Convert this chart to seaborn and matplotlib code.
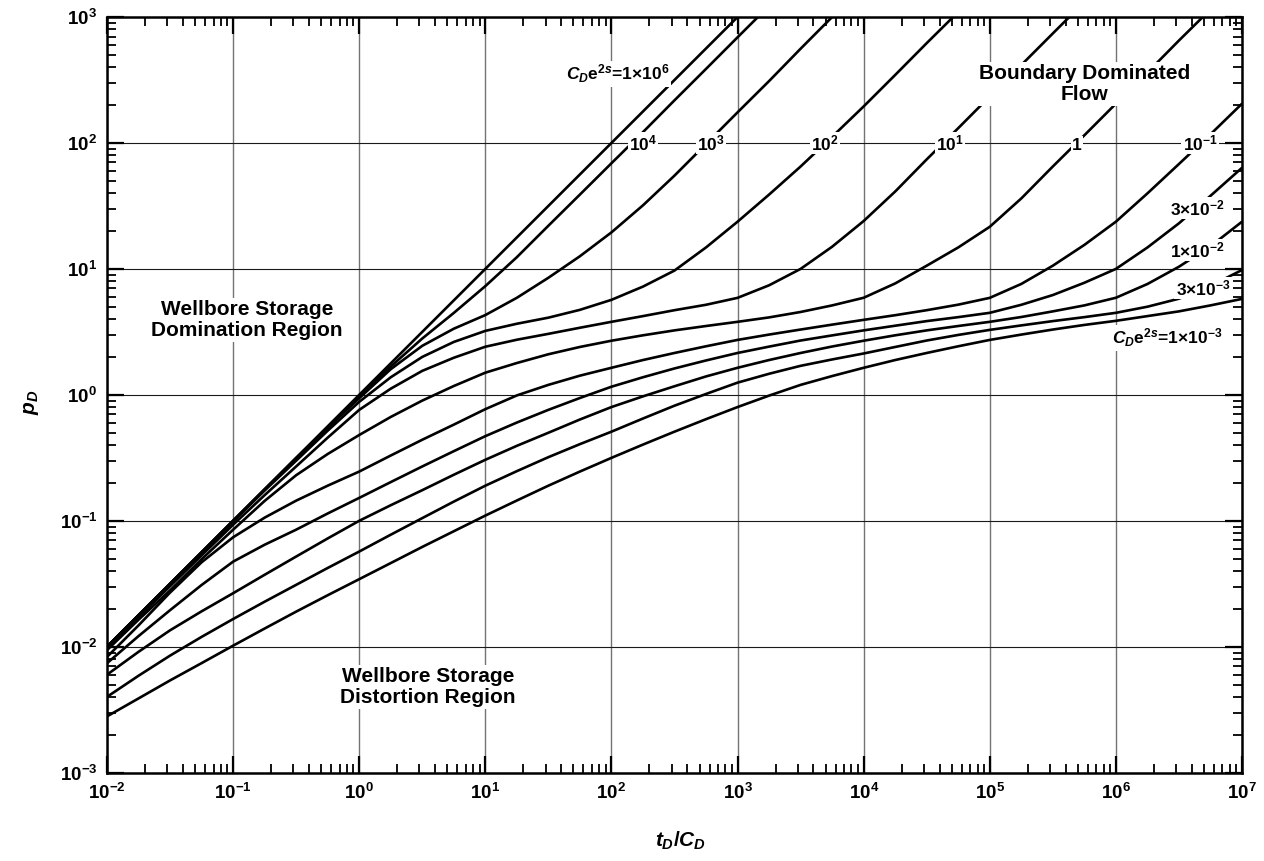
import numpy as np
import pandas as pd
import matplotlib
matplotlib.use("Agg")
import matplotlib.pyplot as plt
import seaborn as sns
from matplotlib.ticker import FixedLocator, FixedFormatter, LogLocator, NullFormatter

# ---------------- data ----------------
# tD/CD sample positions (quarter decades)
X_Q = [0.01, 0.0178, 0.0316, 0.0562, 0.1, 0.178, 0.316, 0.562,
       1, 1.78, 3.16, 5.62, 10, 17.8, 31.6, 56.2,
       100, 178, 316, 562, 1000, 1778, 3162, 5623,
       1e4, 1.78e4, 3.16e4, 5.62e4, 1e5, 1.78e5, 3.16e5, 5.62e5,
       1e6, 1.78e6, 3.16e6, 5.62e6, 1e7]

c1_x = [0.01, 0.1, 1, 10, 100, 1000, 2000]
c1_y = [0.01, 0.1, 1, 10, 100, 1000, 2000]

c2_x = X_Q[:23]
c2_y = [0.01, 0.0178, 0.0316, 0.0562, 0.1, 0.178, 0.315, 0.55, 0.97, 1.68, 2.8, 4.47,
        7.3, 12.4, 22, 38.9, 69, 122, 218, 387, 690, 1225, 2180]

c3_x = X_Q[:25]
c3_y = [0.01, 0.0178, 0.0316, 0.0562, 0.1, 0.177, 0.31, 0.547, 0.94, 1.60, 2.45, 3.35,
        4.3, 5.9, 8.5, 12.6, 19.5, 32, 55, 98, 175, 310, 560, 1000, 1780]

c4_x = X_Q[:29]
c4_y = [0.01, 0.0178, 0.0315, 0.0559, 0.099, 0.174, 0.3, 0.519, 0.88, 1.38, 2.0, 2.63,
        3.22, 3.67, 4.1, 4.73, 5.68, 7.24, 9.7, 14.8, 23.7, 38.9, 65, 112,
        195, 347, 620, 1096, 1950]

c5_x = X_Q[:33]
c5_y = [0.0097, 0.0172, 0.0302, 0.0531, 0.093, 0.16, 0.27, 0.457, 0.76, 1.12, 1.55, 1.97,
        2.41, 2.74, 3.05, 3.41, 3.8, 4.22, 4.7, 5.19, 5.89, 7.41, 10, 15.0,
        24, 41.2, 74, 131, 234, 416, 740, 1315, 2340]

c6_x = X_Q
c6_y = [0.0094, 0.0164, 0.028, 0.0495, 0.085, 0.144, 0.23, 0.339, 0.48, 0.668, 0.9, 1.175,
        1.5, 1.79, 2.1, 2.4, 2.69, 2.97, 3.25, 3.52, 3.8, 4.12, 4.55, 5.13,
        5.9, 7.67, 10.6, 14.8, 21.6, 36.3, 65, 115, 205, 363, 650, 1148, 2050]

c7_x = X_Q
c7_y = [0.0083, 0.0148, 0.0269, 0.0468, 0.074, 0.106, 0.1445, 0.19, 0.246, 0.33, 0.44, 0.58,
        0.77, 0.99, 1.2, 1.42, 1.64, 1.89, 2.15, 2.43, 2.73, 3.01, 3.3, 3.61,
        3.94, 4.29, 4.7, 5.2, 5.89, 7.6, 10.6, 15.5, 23.7, 39.8, 68, 117, 205]

c8_x = X_Q
c8_y = [0.0074, 0.01216, 0.0195, 0.0309, 0.0474, 0.0646, 0.085, 0.1143, 0.152, 0.203, 0.27, 0.357,
        0.47, 0.603, 0.76, 0.944, 1.16, 1.38, 1.62, 1.875, 2.15, 2.415, 2.7, 2.965,
        3.25, 3.54, 3.85, 4.14, 4.48, 5.19, 6.2, 7.76, 10, 14.8, 23, 38, 63.5]

c9_x = X_Q
c9_y = [0.006, 0.00912, 0.0135, 0.0191, 0.0266, 0.0373, 0.052, 0.0724, 0.1, 0.133, 0.175, 0.232,
        0.305, 0.394, 0.5, 0.637, 0.8, 0.973, 1.17, 1.40, 1.64, 1.89, 2.15, 2.42,
        2.69, 2.97, 3.25, 3.52, 3.8, 4.15, 4.6, 5.13, 5.9, 7.59, 10.4, 15.1, 23.7]

c10_x = X_Q
c10_y = [0.004, 0.00589, 0.0085, 0.01197, 0.0166, 0.0228, 0.031, 0.0422, 0.057, 0.0776, 0.105, 0.142,
         0.19, 0.248, 0.32, 0.406, 0.51, 0.649, 0.82, 1.016, 1.25, 1.47, 1.7, 1.91,
         2.13, 2.40, 2.7, 2.99, 3.28, 3.56, 3.85, 4.14, 4.48, 5.01, 5.8, 7.33, 9.8]

c11_x = X_Q
c11_y = [0.0028, 0.00389, 0.0054, 0.00741, 0.0102, 0.01396, 0.019, 0.02564, 0.0344, 0.0462, 0.062, 0.0826,
         0.11, 0.145, 0.19, 0.246, 0.316, 0.403, 0.51, 0.641, 0.80, 0.986, 1.2, 1.41,
         1.64, 1.89, 2.15, 2.43, 2.73, 3.01, 3.3, 3.59, 3.87, 4.22, 4.6, 5.13, 5.78]

curve_names = ["1e6", "1e4", "1e3", "1e2", "1e1", "1", "1e-1", "3e-2", "1e-2", "3e-3", "1e-3"]
curve_x = [c1_x, c2_x, c3_x, c4_x, c5_x, c6_x, c7_x, c8_x, c9_x, c10_x, c11_x]
curve_y = [c1_y, c2_y, c3_y, c4_y, c5_y, c6_y, c7_y, c8_y, c9_y, c10_y, c11_y]

x_ticks = [1e-2, 1e-1, 1e0, 1e1, 1e2, 1e3, 1e4, 1e5, 1e6, 1e7]
x_ticklabels = ["10$^{-2}$", "10$^{-1}$", "10$^{0}$", "10$^{1}$", "10$^{2}$", "10$^{3}$",
                "10$^{4}$", "10$^{5}$", "10$^{6}$", "10$^{7}$"]
y_ticks = [1e-3, 1e-2, 1e-1, 1e0, 1e1, 1e2, 1e3]
y_ticklabels = ["10$^{-3}$", "10$^{-2}$", "10$^{-1}$", "10$^{0}$", "10$^{1}$", "10$^{2}$", "10$^{3}$"]

# ---------------- build frame ----------------
rows = []
for name, xs, ys in zip(curve_names, curve_x, curve_y):
    for xv, yv in zip(xs, ys):
        rows.append({"curve": name, "tD_CD": xv, "pD": yv})
df = pd.DataFrame(rows)

# ---------------- style ----------------
sns.set_theme(style="white")
plt.rcParams["font.family"] = ["Liberation Sans", "DejaVu Sans"]
plt.rcParams["font.weight"] = "bold"
plt.rcParams["mathtext.fontset"] = "custom"
plt.rcParams["mathtext.rm"] = "Liberation Sans:bold"
plt.rcParams["mathtext.it"] = "Liberation Sans:italic:bold"
plt.rcParams["mathtext.bf"] = "Liberation Sans:bold"
plt.rcParams["mathtext.default"] = "regular"

fig = plt.figure(figsize=(12.64, 8.61), dpi=100)
ax = fig.add_axes([107 / 1264, 1 - 772.7 / 861, 1135 / 1264, 755.7 / 861])
ax.set_xscale("log")
ax.set_yscale("log")

sns.lineplot(data=df, x="tD_CD", y="pD", units="curve", estimator=None,
             color="black", linewidth=1.9, sort=False, legend=False, ax=ax, zorder=3)

ax.set_xlim(1e-2, 1e7)
ax.set_ylim(1e-3, 1e3)

ax.xaxis.set_major_locator(FixedLocator(x_ticks))
ax.xaxis.set_major_formatter(FixedFormatter(x_ticklabels))
ax.yaxis.set_major_locator(FixedLocator(y_ticks))
ax.yaxis.set_major_formatter(FixedFormatter(y_ticklabels))
ax.xaxis.set_minor_locator(LogLocator(base=10, subs=np.arange(2, 10), numticks=30))
ax.yaxis.set_minor_locator(LogLocator(base=10, subs=np.arange(2, 10), numticks=30))
ax.xaxis.set_minor_formatter(NullFormatter())
ax.yaxis.set_minor_formatter(NullFormatter())

ax.tick_params(which="both", direction="in", top=True, right=True, bottom=True, left=True,
               color="black")
ax.tick_params(which="major", length=12.5, width=1.6, labelsize=13.5, pad=7, labelcolor="black")
ax.tick_params(which="minor", length=6.5, width=1.3)
for lab in ax.get_xticklabels() + ax.get_yticklabels():
    lab.set_fontweight("bold")

for sp in ax.spines.values():
    sp.set_color("black")
    sp.set_linewidth(1.8)

ax.set_axisbelow(True)
ax.grid(False)
ax.xaxis.grid(True, which="major", color="0.45", linewidth=1.0)
ax.yaxis.grid(True, which="major", color="0.1", linewidth=0.8)

ax.set_xlabel(r"$\mathit{t_D/C_D}$", fontsize=15, color="black")
ax.set_ylabel(r"$\mathit{p_D}$", fontsize=15, color="black")
ax.xaxis.set_label_coords(0.505, -0.075)
ax.yaxis.set_label_coords(-0.058, 0.49)

# ---------------- annotations ----------------
def fx(px):
    return (px - 107) / 1135.0

def fy(py):
    return (772.7 - py) / 755.7

box = dict(facecolor="white", edgecolor="none", pad=1.0)
lab_kw = dict(transform=ax.transAxes, ha="center", va="center", fontsize=12.5,
              fontweight="bold", color="black", bbox=box, zorder=5)

cde = r"$\mathit{C_D}$e$^{\mathit{2s}}$"
ax.text(fx(618), fy(74), cde + "=1×10$^{6}$", **lab_kw)
ax.text(fx(643), fy(143), "10$^{4}$", **lab_kw)
ax.text(fx(711), fy(143), "10$^{3}$", **lab_kw)
ax.text(fx(825), fy(143), "10$^{2}$", **lab_kw)
ax.text(fx(950), fy(143), "10$^{1}$", **lab_kw)
ax.text(fx(1077), fy(145), "1", **lab_kw)
ax.text(fx(1200), fy(143), "10$^{-1}$", **lab_kw)
ax.text(fx(1197), fy(208), "3×10$^{-2}$", **lab_kw)
ax.text(fx(1197), fy(250), "1×10$^{-2}$", **lab_kw)
ax.text(fx(1203), fy(288), "3×10$^{-3}$", **lab_kw)
ax.text(fx(1167), fy(338), cde + "=1×10$^{-3}$", **lab_kw)

reg_kw = dict(transform=ax.transAxes, ha="center", va="center", fontsize=15,
              fontweight="bold", color="black",
              bbox=dict(facecolor="white", edgecolor="none", pad=2),
              zorder=5, linespacing=1.1)
ax.text(fx(1085), fy(84), "Boundary Dominated\nFlow", **reg_kw)
ax.text(fx(247), fy(320), "Wellbore Storage\nDomination Region", **reg_kw)
ax.text(fx(428), fy(687), "Wellbore Storage\nDistortion Region", **reg_kw)

fig.savefig("out.png", dpi=100, facecolor="white")
